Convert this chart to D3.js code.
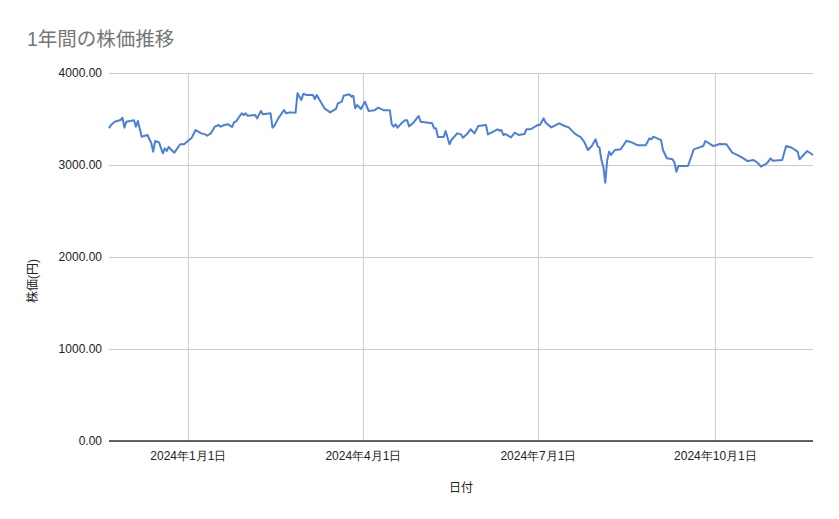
<!DOCTYPE html>
<html>
<head>
<meta charset="utf-8">
<script src="https://cdn.jsdelivr.net/npm/d3@7"></script>
<style>
  html, body { margin: 0; padding: 0; background: #fff; }
  svg { display: block; font-family: "Liberation Sans", Arial, "Noto Sans CJK JP", sans-serif; }
</style>
</head>
<body>
<svg id="chart" width="839" height="519"></svg>
<script>
const title = "1年間の株価推移";
const xTitle = "日付";
const yTitle = "株価(円)";

const dates = [
  "2023-11-21","2023-11-22","2023-11-24","2023-11-27","2023-11-28","2023-11-29","2023-11-30",
  "2023-12-04","2023-12-05","2023-12-06","2023-12-08","2023-12-11","2023-12-13","2023-12-14",
  "2023-12-15","2023-12-17","2023-12-19","2023-12-20","2023-12-21","2023-12-22","2023-12-23",
  "2023-12-25","2023-12-28","2023-12-30",
  "2024-01-01","2024-01-03","2024-01-05","2024-01-08","2024-01-10","2024-01-11","2024-01-13",
  "2024-01-15","2024-01-17","2024-01-18","2024-01-20","2024-01-22","2024-01-24","2024-01-25",
  "2024-01-26","2024-01-29","2024-01-30","2024-01-31",
  "2024-02-01","2024-02-05","2024-02-06","2024-02-08","2024-02-09","2024-02-13","2024-02-14",
  "2024-02-15","2024-02-17","2024-02-20","2024-02-21","2024-02-23","2024-02-26","2024-02-27",
  "2024-02-29",
  "2024-03-01","2024-03-03","2024-03-06","2024-03-07","2024-03-08","2024-03-12","2024-03-15",
  "2024-03-18","2024-03-19","2024-03-21","2024-03-22","2024-03-25","2024-03-26","2024-03-27",
  "2024-03-28","2024-03-29","2024-03-31",
  "2024-04-02","2024-04-04","2024-04-07","2024-04-09","2024-04-12","2024-04-15","2024-04-16",
  "2024-04-17","2024-04-18","2024-04-19","2024-04-21","2024-04-23","2024-04-24","2024-04-25",
  "2024-04-27","2024-04-30",
  "2024-05-01","2024-05-07","2024-05-08","2024-05-09","2024-05-10","2024-05-13","2024-05-14",
  "2024-05-16","2024-05-17","2024-05-20","2024-05-22","2024-05-23","2024-05-25","2024-05-27",
  "2024-05-29","2024-05-31",
  "2024-06-04","2024-06-05","2024-06-10","2024-06-11","2024-06-12","2024-06-13","2024-06-14",
  "2024-06-17","2024-06-19","2024-06-21","2024-06-24","2024-06-25","2024-06-27","2024-06-28",
  "2024-06-30",
  "2024-07-01","2024-07-02","2024-07-04","2024-07-05","2024-07-08","2024-07-12","2024-07-15",
  "2024-07-17","2024-07-20","2024-07-22","2024-07-23","2024-07-25","2024-07-27","2024-07-29",
  "2024-07-31",
  "2024-08-01","2024-08-02","2024-08-03","2024-08-04","2024-08-05","2024-08-06","2024-08-07",
  "2024-08-08","2024-08-10","2024-08-13","2024-08-16","2024-08-19","2024-08-22","2024-08-26",
  "2024-08-28","2024-08-29","2024-08-30",
  "2024-09-02","2024-09-03","2024-09-04","2024-09-06","2024-09-09","2024-09-10","2024-09-11",
  "2024-09-12","2024-09-17","2024-09-20","2024-09-23","2024-09-25","2024-09-26","2024-09-30",
  "2024-10-02","2024-10-03","2024-10-07","2024-10-10","2024-10-12","2024-10-15","2024-10-18",
  "2024-10-19","2024-10-21","2024-10-23","2024-10-25","2024-10-28","2024-10-30","2024-10-31",
  "2024-11-05","2024-11-07","2024-11-10","2024-11-13","2024-11-14","2024-11-18","2024-11-21"
];

const prices = [
  3399,3435,3471,3489,3514,3406,3471,
  3486,3417,3478,3308,3326,3236,3145,
  3261,3246,3127,3181,3152,3196,3174,
  3134,3225,3225,
  3261,3297,3380,3344,3333,3318,3344,
  3417,3435,3417,3435,3442,3413,3464,
  3471,3562,3543,3562,
  3536,3543,3507,3587,3551,3562,3406,
  3427,3507,3598,3562,3572,3569,3779,
  3707,
  3772,3761,3761,3717,3761,3616,3572,
  3609,3670,3688,3753,3768,3742,3753,
  3616,3652,3609,
  3688,3587,3594,3623,3594,3594,3442,
  3417,3442,3406,3453,3486,3486,3420,
  3453,3533,
  3471,3453,3399,3399,3304,3304,3370,
  3225,3272,3344,3333,3297,3333,3388,
  3344,3424,
  3435,3333,3388,3373,3380,3326,3337,
  3301,3351,3326,3337,3388,3388,3398,
  3424,
  3435,3435,3507,3460,3409,3453,3424,
  3409,3344,3315,3308,3254,3163,3207,
  3279,
  3207,3188,3054,2982,2808,3054,3145,
  3109,3163,3170,3264,3243,3214,3214,
  3290,3279,3308,
  3279,3272,3163,3073,3062,3025,2927,
  2989,2989,3170,3192,3207,3261,3207,
  3217,3228,3225,3134,3116,3083,3043,
  3047,3054,3029,2982,3018,3073,3047,
  3054,3207,3188,3145,3062,3152,3109
];

const yTicks = [0, 1000, 2000, 3000, 4000];
const xTickDates = ["2024-01-01","2024-04-01","2024-07-01","2024-10-01"];
const xTickLabels = ["2024年1月1日","2024年4月1日","2024年7月1日","2024年10月1日"];
const xDomain = ["2023-11-21","2024-11-21"];

const parse = d3.utcParse("%Y-%m-%d");
const data = dates.map((d, i) => ({ date: parse(d), value: prices[i] }));

const svg = d3.select("#chart");
const margin = { left: 109, right: 26, top: 73, bottom: 78 };
const W = 839, H = 519;
const innerW = W - margin.left - margin.right;
const innerH = H - margin.top - margin.bottom;

const x = d3.scaleUtc().domain(xDomain.map(parse)).range([margin.left, margin.left + innerW]);
const y = d3.scaleLinear().domain([0, 4000]).range([margin.top + innerH, margin.top]);

svg.append("rect").attr("width", W).attr("height", H).attr("fill", "#fff");

// Title
svg.append("text")
  .attr("x", 27).attr("y", 46)
  .attr("font-size", 19.5)
  .attr("fill", "#757575")
  .text(title);

// horizontal grid + y labels
const yAxis = d3.axisLeft(y).tickValues(yTicks).tickSize(-innerW).tickPadding(7)
  .tickFormat(d3.format(".2f"));
const gy = svg.append("g").attr("transform", `translate(${margin.left},0)`).call(yAxis);
gy.select(".domain").remove();
gy.selectAll(".tick line").attr("stroke", "#cccccc").attr("stroke-width", 1);
gy.selectAll(".tick text").attr("font-size", 12).attr("fill", "#222").attr("font-family", null);

// vertical grid + x labels
const xAxis = d3.axisBottom(x).tickValues(xTickDates.map(parse)).tickSize(-innerH).tickPadding(10)
  .tickFormat((d, i) => xTickLabels[i]);
const gx = svg.append("g").attr("transform", `translate(0,${margin.top + innerH})`).call(xAxis);
gx.select(".domain").remove();
gx.selectAll(".tick line").attr("stroke", "#cccccc").attr("stroke-width", 1);
gx.selectAll(".tick text").attr("font-size", 12).attr("fill", "#222").attr("font-family", null);

// baseline
svg.append("line")
  .attr("x1", margin.left).attr("x2", margin.left + innerW)
  .attr("y1", y(0)).attr("y2", y(0))
  .attr("stroke", "#333").attr("stroke-width", 1.3);

// line
const line = d3.line().x(d => x(d.date)).y(d => y(d.value));
svg.append("path").datum(data)
  .attr("d", line)
  .attr("fill", "none")
  .attr("stroke", "#4a80dc")
  .attr("stroke-width", 2)
  .attr("stroke-linejoin", "round");

// axis titles
svg.append("text")
  .attr("x", margin.left + innerW / 2).attr("y", 492)
  .attr("text-anchor", "middle")
  .attr("font-size", 12).attr("fill", "#222")
  .text(xTitle);

svg.append("text")
  .attr("transform", `translate(37,${margin.top + innerH / 2 + 24}) rotate(-90)`)
  .attr("text-anchor", "middle")
  .attr("font-size", 12).attr("fill", "#222")
  .text(yTitle);
</script>
</body>
</html>
